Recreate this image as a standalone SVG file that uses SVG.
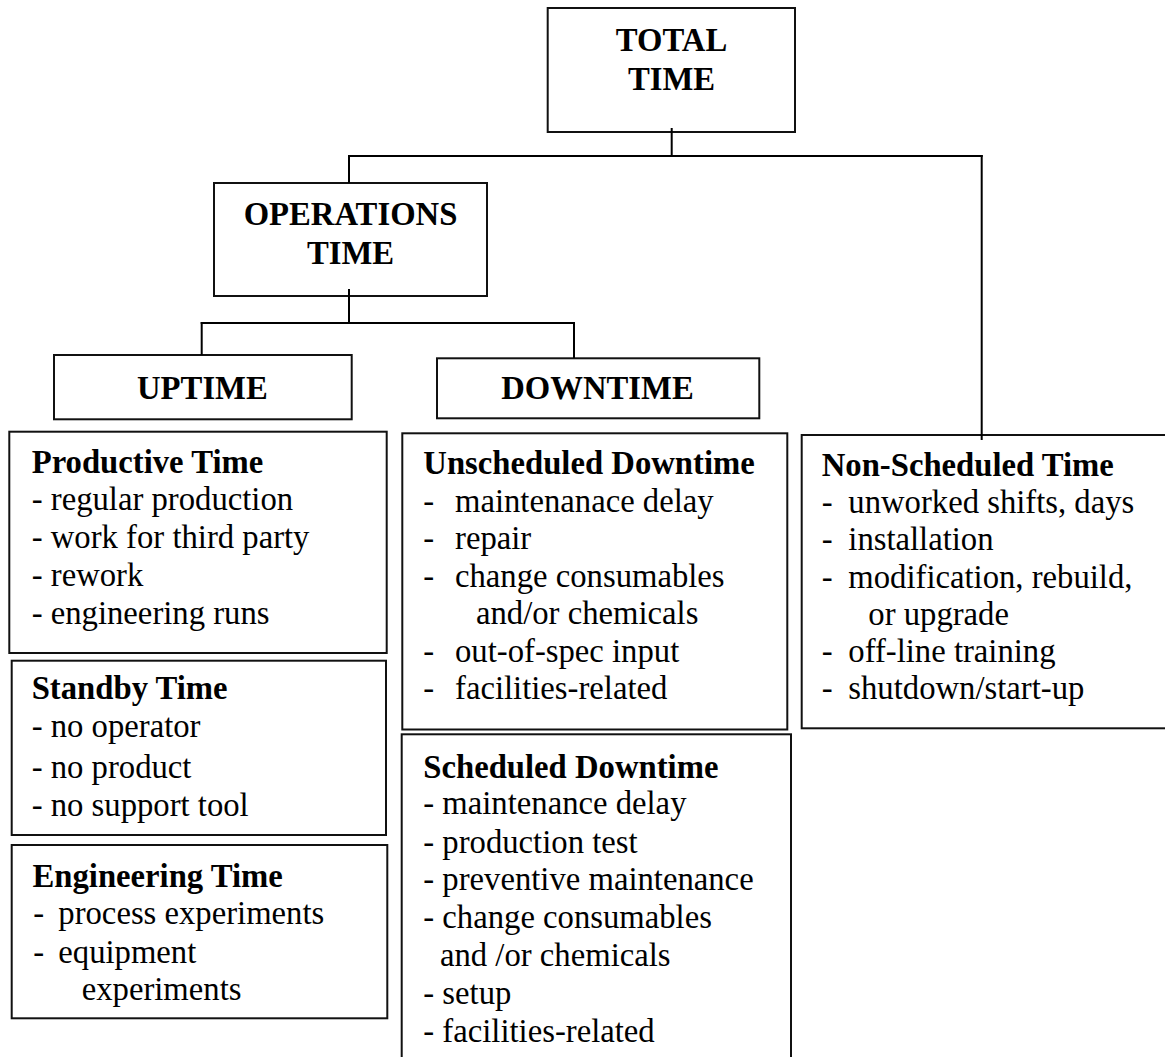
<svg xmlns="http://www.w3.org/2000/svg" width="1165" height="1057" viewBox="0 0 1165 1057">
<style>
text{font-family:"Liberation Serif","Times New Roman",serif;font-size:32.7px;fill:#000}
.b{font-weight:bold}
.c{text-anchor:middle}
rect{fill:#fff;stroke:#111;stroke-width:2}
.conn line{stroke:#000;stroke-width:2}
</style>
<rect x="0" y="0" width="1165" height="1057" style="stroke:none;fill:#fff"/>
<g id="total">
<rect x="547.7" y="8" width="247.3" height="124"/>
<text class="b c" x="671.5" y="51">TOTAL</text>
<text class="b c" x="671.5" y="90">TIME</text>
</g>
<g id="operations">
<rect x="214" y="183" width="273" height="113"/>
<text class="b c" x="350.5" y="225">OPERATIONS</text>
<text class="b c" x="350.5" y="264.3">TIME</text>
</g>
<g id="uptime">
<rect x="54" y="355" width="297.7" height="64.3"/>
<text class="b c" x="202.4" y="399.3">UPTIME</text>
</g>
<g id="downtime">
<rect x="437" y="358.3" width="322.3" height="60"/>
<text class="b c" x="597.5" y="399.3">DOWNTIME</text>
</g>
<g id="productive">
<rect x="9.3" y="431.7" width="377.4" height="221.3"/>
<text class="b" x="31.7" y="472.7">Productive Time</text>
<text x="31.7" y="510.3">- regular production</text>
<text x="31.7" y="547.7">- work for third party</text>
<text x="31.7" y="586">- rework</text>
<text x="31.7" y="624.3">- engineering runs</text>
</g>
<g id="standby">
<rect x="11.7" y="660.7" width="374.3" height="174.3"/>
<text class="b" x="31.7" y="699.3">Standby Time</text>
<text x="31.7" y="737">- no operator</text>
<text x="31.7" y="777.7">- no product</text>
<text x="31.7" y="816">- no support tool</text>
</g>
<g id="engineering">
<rect x="11.7" y="845" width="375.6" height="173.3"/>
<text class="b" x="32.5" y="887">Engineering Time</text>
<text x="33.3" y="924.3">- <tspan x="58.3">process experiments</tspan></text>
<text x="33.3" y="962.7">- <tspan x="58.3">equipment</tspan></text>
<text x="81.7" y="1000">experiments</text>
</g>
<g id="unscheduled">
<rect x="402.3" y="433.3" width="385" height="296.2"/>
<text class="b" x="423.3" y="474.3">Unscheduled Downtime</text>
<text x="423.3" y="511.7">- <tspan x="455">maintenanace delay</tspan></text>
<text x="423.3" y="549.3">- <tspan x="455">repair</tspan></text>
<text x="423.3" y="586.7">- <tspan x="455">change consumables</tspan></text>
<text x="476" y="624.3">and/or chemicals</text>
<text x="423.3" y="661.7">- <tspan x="455">out-of-spec input</tspan></text>
<text x="423.3" y="699.3">- <tspan x="455">facilities-related</tspan></text>
</g>
<g id="scheduled">
<rect x="401.7" y="734.3" width="389.3" height="340"/>
<text class="b" x="423.3" y="777.7">Scheduled Downtime</text>
<text x="423.3" y="814.3">- maintenance delay</text>
<text x="423.3" y="852.7">- production test</text>
<text x="423.3" y="890.3">- preventive maintenance</text>
<text x="423.3" y="928.3">- change consumables</text>
<text x="440" y="966">and /or chemicals</text>
<text x="423.3" y="1003.7">- setup</text>
<text x="423.3" y="1041.7">- facilities-related</text>
</g>
<g id="nonscheduled">
<rect x="801.7" y="435" width="380" height="293.3"/>
<text class="b" x="821.7" y="476">Non-Scheduled Time</text>
<text x="821.7" y="512.7">- <tspan x="848.3">unworked shifts, days</tspan></text>
<text x="821.7" y="550.3">- <tspan x="848.3">installation</tspan></text>
<text x="821.7" y="587.7">- <tspan x="848.3">modification, rebuild,</tspan></text>
<text x="868.3" y="625">or upgrade</text>
<text x="821.7" y="661.7">- <tspan x="848.3">off-line training</tspan></text>
<text x="821.7" y="699.3">- <tspan x="848.3">shutdown/start-up</tspan></text>
</g>
<g id="connectors" class="conn">
<line x1="671.7" y1="128" x2="671.7" y2="156"/>
<line x1="348" y1="156" x2="982.7" y2="156"/>
<line x1="349" y1="155" x2="349" y2="183"/>
<line x1="981.7" y1="155" x2="981.7" y2="440"/>
<line x1="349" y1="289" x2="349" y2="324"/>
<line x1="200.7" y1="323" x2="575" y2="323"/>
<line x1="201.7" y1="322" x2="201.7" y2="355"/>
<line x1="574" y1="322" x2="574" y2="358"/>
</g>
</svg>
